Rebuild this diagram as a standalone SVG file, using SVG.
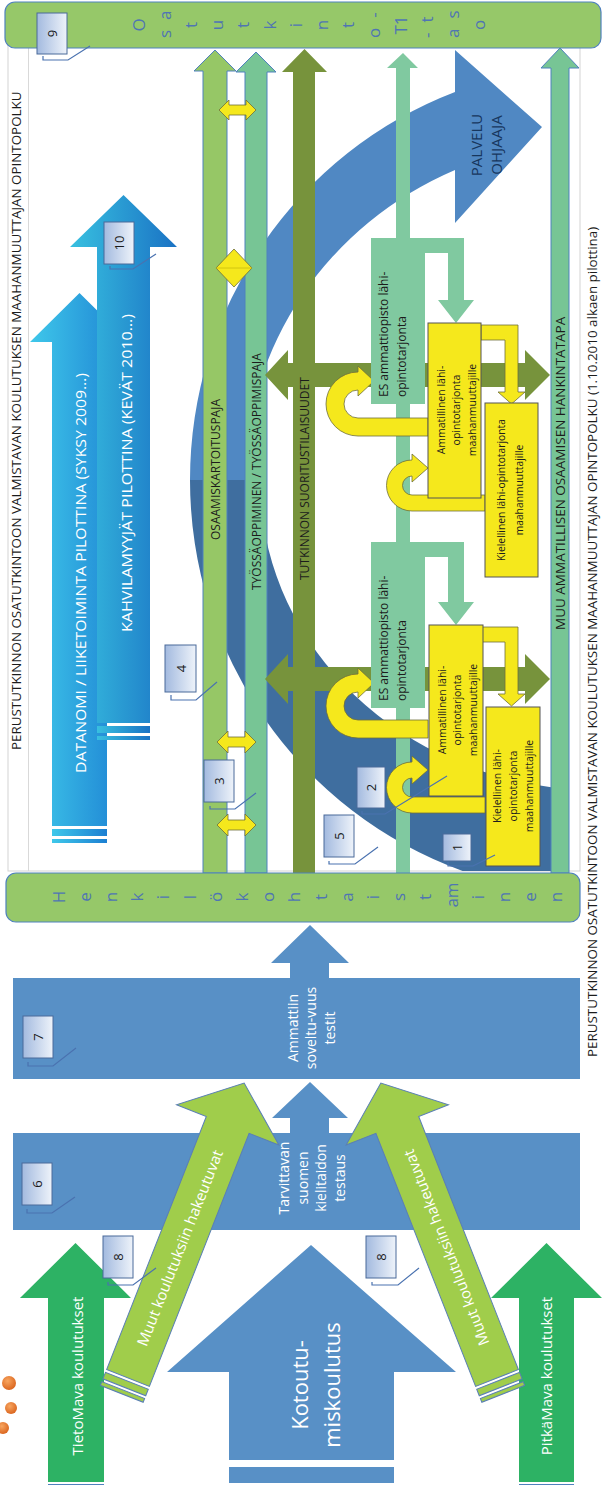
<svg xmlns="http://www.w3.org/2000/svg" width="602" height="1488" viewBox="0 0 602 1488">
<defs>
<style>
.t{font-family:"Open Sans","Liberation Sans",sans-serif}
.dk{fill:#1c1c1c}
.wh{fill:#ffffff}
.lt{font-family:"Open Sans","Liberation Sans",sans-serif;font-size:17px;fill:#4f75b3}
.nb{fill:url(#nbg);stroke:#4a6a9a;stroke-width:1}
.nt{font-family:"Open Sans","Liberation Sans",sans-serif;font-size:13px;fill:#1a1a1a}
.co{fill:none;stroke:#4a72b0;stroke-width:1.2}
.yl{fill:#f5e81c;stroke:#6e6e3a;stroke-width:0.8}
.yb{fill:#f5e81c;stroke:#555;stroke-width:1}
.tl{fill:#80c9a0}
.bl{fill:#5890c6}
.gr{fill:#2db264}
.mu{fill:#a0cd4b;stroke:#5a7fb5;stroke-width:1}
</style>
<linearGradient id="nbg" x1="0" y1="0" x2="1" y2="0">
<stop offset="0" stop-color="#a3badf"/><stop offset="1" stop-color="#eef3fa"/>
</linearGradient>
<linearGradient id="cy1" x1="0" y1="0" x2="1" y2="0">
<stop offset="0" stop-color="#3fc8ea"/><stop offset="1" stop-color="#1c7fd2"/>
</linearGradient>
<linearGradient id="cy2" x1="0" y1="0" x2="1" y2="0">
<stop offset="0" stop-color="#38c0e0"/><stop offset="1" stop-color="#1a72c4"/>
</linearGradient>
<radialGradient id="org" cx="0.4" cy="0.35" r="0.7">
<stop offset="0" stop-color="#f8a660"/><stop offset="1" stop-color="#d9621b"/>
</radialGradient>
</defs>

<rect x="0" y="0" width="602" height="1488" fill="#ffffff"/>

<g id="panel">
<rect x="8" y="40" width="572" height="831" fill="#ffffff" stroke="#d3d3d3" stroke-width="1"/>
<line x1="28.5" y1="48" x2="28.5" y2="871" stroke="#d9d9d9" stroke-width="1"/>
<text class="t dk" font-size="13.4" transform="translate(16,750) rotate(-90)" dominant-baseline="central">PERUSTUTKINNON OSATUTKINTOON VALMISTAVAN KOULUTUKSEN MAAHANMUUTTAJAN OPINTOPOLKU</text>
</g>

<g id="title-right">
<text class="t dk" font-size="13.4" transform="translate(592,1057) rotate(-90)" dominant-baseline="central">PERUSTUTKINNON OSATUTKINTOON VALMISTAVAN KOULUTUKSEN MAAHANMUUTTAJAN OPINTOPOLKU (1.10.2010 alkaen pilottina)</text>
</g>

<g id="datanomi">
<path d="M52,826 V342 H30 L79.5,293 L129,342 H107 V826 Z" fill="url(#cy1)"/>
<rect x="52" y="829" width="55" height="7" fill="url(#cy1)"/>
<rect x="52" y="839" width="55" height="4" fill="url(#cy1)"/>
<text class="t wh" font-size="15" textLength="400" lengthAdjust="spacingAndGlyphs" transform="translate(80,773) rotate(-90)" dominant-baseline="central">DATANOMI / LIIKETOIMINTA PILOTTINA (SYKSY 2009…)</text>
</g>

<g id="kahvila">
<path d="M97,723 V247 H70 L123.5,195 L177,247 H150 V723 Z" fill="url(#cy2)"/>
<rect x="97" y="726" width="53" height="7" fill="url(#cy2)"/>
<rect x="97" y="736" width="53" height="4" fill="url(#cy2)"/>
<text class="t wh" font-size="15" textLength="318" lengthAdjust="spacingAndGlyphs" transform="translate(126,632) rotate(-90)" dominant-baseline="central">KAHVILAMYYJÄT PILOTTINA (KEVÄT 2010…)</text>
</g>

<g id="palvelu-ohjaaja">
<path d="M190,480 A410,415 0 0 0 462.6,871 H556 V788 A340,310 0 0 1 260,480 Z" fill="#3f6e9f"/>
<path d="M190,480 A410,415 0 0 1 455,92 V50 L542,127 L455,223 V170 A355,340 0 0 0 245,480 Z" fill="#5088c3"/>
<text class="t" font-size="15" fill="#17365d" transform="translate(486,145) rotate(-90)" text-anchor="middle" dominant-baseline="central"><tspan x="0" y="-10">PALVELU</tspan><tspan x="0" y="10">OHJAAJA</tspan></text>
</g>

<g id="connectors">
<path id="t1-line" d="M396,873 V68 H387 L403,53 L418,68 H410 V873 Z" class="tl"/>
<path d="M203,873 V71 H194 L215,50 L236,71 H227 V873 Z" fill="#96c766" stroke="#4f81bd" stroke-width="1"/>
<path d="M245,873 V72 H236 L256,52 L276,72 H267 V873 Z" fill="#77c595" stroke="#4f81bd" stroke-width="1"/>
<path d="M551,873 V68 H541 L560,48 L579,68 H569 V873 Z" fill="#77c595" stroke="#4f81bd" stroke-width="1"/>
<path d="M293,873 V72 H282 L304.5,49 L327,72 H315 V873 Z" fill="#77933c"/>
<path d="M265,375 L288,350 V363 H525 V350 L550,375 L525,400 V387 H288 V400 Z" fill="#77933c"/>
<path d="M265,679 L288,654 V667 H525 V654 L550,679 L525,704 V691 H288 V704 Z" fill="#77933c"/>
<path d="M219,110 L229,100 V105 H246 V100 L256,110 L246,120 V115 H229 V120 Z" class="yl"/>
<path d="M217,742 L228,731 V737 H245 V731 L256,742 L245,753 V747 H228 V753 Z" class="yl"/>
<path d="M217,825 L228,814 V820 H245 V814 L256,825 L245,836 V830 H228 V836 Z" class="yl"/>
<path d="M234,249 L252,268 L234,287 L216,268 Z" class="yl"/>
<line x1="216" y1="268" x2="252" y2="268" stroke="#c9bd10" stroke-width="0.8"/>
<path d="M481,325 H518 V392 H525 L511.5,404 L498,392 H505 V340 H481 Z" class="yl"/>
<path d="M481,627 H518 V694 H525 L511.5,706 L498,694 H505 V642 H481 Z" class="yl"/>
<path d="M428,436 H358 A32,32 0 0 1 358,372 V366 L374,381 L358,396 V390 A14,14 0 0 0 358,418 H428 Z" class="yl"/>
<path d="M428,738 H358 A32,32 0 0 1 358,674 V668 L374,683 L358,698 V692 A14,14 0 0 0 358,720 H428 Z" class="yl"/>
<path d="M485,511 H412 A25.5,25.5 0 0 1 412,460 V454 L428,468 L412,482 V476 A9.5,9.5 0 0 0 412,495 H485 Z" class="yl"/>
<path d="M485,813 H412 A25.5,25.5 0 0 1 412,762 V756 L428,770 L412,784 V778 A9.5,9.5 0 0 0 412,797 H485 Z" class="yl"/>
<path d="M290,1140 V1118 H272 L310,1082 L348,1118 H329 V1140 Z" class="bl"/>
<path d="M290,985 V963 H271 L310,925 L349,963 H329 V985 Z" class="bl"/>
</g>

<g id="osaamis">
<text class="t dk" font-size="12" transform="translate(215,540) rotate(-90)" dominant-baseline="central">OSAAMISKARTOITUSPAJA</text>
</g>
<g id="tyossa">
<text class="t dk" font-size="12" transform="translate(256,590) rotate(-90)" dominant-baseline="central">TYÖSSÄOPPIMINEN / TYÖSSÄOPPIMISPAJA</text>
</g>
<g id="tutkinnon">
<text class="t dk" font-size="12" transform="translate(304,580) rotate(-90)" dominant-baseline="central">TUTKINNON SUORITUSTILAISUUDET</text>
</g>
<g id="muu">
<text class="t dk" font-size="13.5" transform="translate(560,630) rotate(-90)" dominant-baseline="central">MUU AMMATILLISEN OSAAMISEN HANKINTATAPA</text>
</g>

<g id="es-upper">
<path d="M371,404 V238 H464 V300 H474 L456,323 L438,300 H448 V253 H425 V404 Z" class="tl"/>
<text class="t dk" font-size="12" transform="translate(392,397) rotate(-90)" dominant-baseline="central"><tspan x="0" y="-9">ES ammattiopisto lähi-</tspan><tspan x="0" y="9">opintotarjonta</tspan></text>
</g>
<g id="es-lower">
<path d="M371,708 V542 H464 V602 H474 L456,625 L438,602 H448 V557 H425 V708 Z" class="tl"/>
<text class="t dk" font-size="12" transform="translate(392,701) rotate(-90)" dominant-baseline="central"><tspan x="0" y="-9">ES ammattiopisto lähi-</tspan><tspan x="0" y="9">opintotarjonta</tspan></text>
</g>

<g id="amm-upper">
<rect x="428" y="323" width="53" height="175" class="yb"/>
<text class="t dk" font-size="10.5" transform="translate(456,410) rotate(-90)" text-anchor="middle" dominant-baseline="central"><tspan x="0" y="-15.5">Ammatillinen lähi-</tspan><tspan x="0" y="0">opintotarjonta</tspan><tspan x="0" y="15.5">maahanmuuttajille</tspan></text>
</g>
<g id="kiel-upper">
<rect x="485" y="403" width="53" height="174" class="yb"/>
<text class="t dk" font-size="10.3" transform="translate(510,490) rotate(-90)" text-anchor="middle" dominant-baseline="central"><tspan x="0" y="-9">Kielellinen lähi-opintotarjonta</tspan><tspan x="0" y="9">maahanmuuttajille</tspan></text>
</g>
<g id="amm-lower">
<rect x="429" y="625" width="54" height="171" class="yb"/>
<text class="t dk" font-size="10.5" transform="translate(457,710) rotate(-90)" text-anchor="middle" dominant-baseline="central"><tspan x="0" y="-15.5">Ammatillinen lähi-</tspan><tspan x="0" y="0">opintotarjonta</tspan><tspan x="0" y="15.5">maahanmuuttajille</tspan></text>
</g>
<g id="kiel-lower">
<rect x="486" y="707" width="54" height="159" class="yb"/>
<text class="t dk" font-size="10.5" transform="translate(513,786) rotate(-90)" text-anchor="middle" dominant-baseline="central"><tspan x="0" y="-16">Kielellinen lähi-</tspan><tspan x="0" y="0">opintotarjonta</tspan><tspan x="0" y="16">maahanmuuttajille</tspan></text>
</g>

<g id="osatutkinto-bar">
<rect x="5" y="2" width="596" height="46" rx="10" fill="#96c869" stroke="#4f81bd" stroke-width="1.2"/>
<g class="lt" text-anchor="middle" dominant-baseline="central">
<text transform="translate(138,25) rotate(-90)">O</text>
<text transform="translate(164.2,38) rotate(-90)" text-anchor="start" letter-spacing="10">sa</text>
<text transform="translate(190.4,25) rotate(-90)">t</text>
<text transform="translate(216.6,25) rotate(-90)">u</text>
<text transform="translate(242.8,25) rotate(-90)">t</text>
<text transform="translate(269,25) rotate(-90)">k</text>
<text transform="translate(295.2,25) rotate(-90)">i</text>
<text transform="translate(321.4,25) rotate(-90)">n</text>
<text transform="translate(347.6,25) rotate(-90)">t</text>
<text transform="translate(373.8,38) rotate(-90)" text-anchor="start" letter-spacing="10">o-</text>
<text transform="translate(400,25) rotate(-90)">T1</text>
<text transform="translate(426.2,38) rotate(-90)" text-anchor="start" letter-spacing="10">-t</text>
<text transform="translate(452.4,38) rotate(-90)" text-anchor="start" letter-spacing="10">as</text>
<text transform="translate(478.6,25) rotate(-90)">o</text>
</g>
</g>

<g id="henkilokohtaistaminen-bar">
<rect x="6" y="873" width="574" height="49" rx="10" fill="#96c869" stroke="#4f81bd" stroke-width="1.2"/>
<g class="lt" text-anchor="middle" dominant-baseline="central">
<text transform="translate(58,897) rotate(-90)">H</text>
<text transform="translate(84.2,897) rotate(-90)">e</text>
<text transform="translate(110.4,897) rotate(-90)">n</text>
<text transform="translate(136.6,897) rotate(-90)">k</text>
<text transform="translate(162.8,897) rotate(-90)">i</text>
<text transform="translate(189,897) rotate(-90)">l</text>
<text transform="translate(215.2,897) rotate(-90)">ö</text>
<text transform="translate(241.4,897) rotate(-90)">k</text>
<text transform="translate(267.6,897) rotate(-90)">o</text>
<text transform="translate(293.8,897) rotate(-90)">h</text>
<text transform="translate(320,897) rotate(-90)">t</text>
<text transform="translate(346.2,897) rotate(-90)">a</text>
<text transform="translate(372.4,897) rotate(-90)">i</text>
<text transform="translate(398.6,897) rotate(-90)">s</text>
<text transform="translate(424.8,897) rotate(-90)">t</text>
<text transform="translate(451,895) rotate(-90)">am</text>
<text transform="translate(477.2,897) rotate(-90)">i</text>
<text transform="translate(503.4,897) rotate(-90)">n</text>
<text transform="translate(529.6,897) rotate(-90)">e</text>
<text transform="translate(555.8,897) rotate(-90)">n</text>
</g>
</g>

<g id="band7">
<rect x="13" y="978" width="567" height="101" class="bl"/>
<text class="t wh" font-size="14" transform="translate(310,1028) rotate(-90)" text-anchor="middle" dominant-baseline="central"><tspan x="0" y="-18.5">Ammattiin</tspan><tspan x="0" y="0">soveltu-vuus</tspan><tspan x="0" y="18.5">testit</tspan></text>
</g>

<g id="band6">
<rect x="13" y="1133" width="567" height="97" class="bl"/>
<text class="t wh" font-size="14" transform="translate(311,1178) rotate(-90)" text-anchor="middle" dominant-baseline="central"><tspan x="0" y="-27.75">Tarvittavan</tspan><tspan x="0" y="-9.25">suomen</tspan><tspan x="0" y="9.25">kielitaidon</tspan><tspan x="0" y="27.75">testaus</tspan></text>
</g>

<g id="kotoutumiskoulutus">
<path d="M229,1460 V1372 H167 L311,1245 L456,1372 H394 V1460 Z" class="bl"/>
<rect x="229" y="1467" width="165" height="16" class="bl"/>
<text class="t wh" font-size="22" transform="translate(315,1385) rotate(-90)" text-anchor="middle" dominant-baseline="central"><tspan x="0" y="-16">Kotoutu-</tspan><tspan x="0" y="16">miskoulutus</tspan></text>
</g>

<g id="tietomava">
<path d="M48,1482 V1298 H20 L75.5,1243 L131,1298 H104 V1482 Z" class="gr"/>
<line x1="48" y1="1484.5" x2="104" y2="1484.5" stroke="#4f81bd" stroke-width="1.2"/>
<text class="t wh" font-size="15" transform="translate(77,1376) rotate(-90)" text-anchor="middle" dominant-baseline="central">TietoMava koulutukset</text>
</g>

<g id="pitkamava">
<path d="M519,1482 V1298 H491 L546.5,1243 L602,1298 H574 V1482 Z" class="gr"/>
<line x1="519" y1="1484.5" x2="574" y2="1484.5" stroke="#4f81bd" stroke-width="1.2"/>
<text class="t wh" font-size="15" transform="translate(546,1376) rotate(-90)" text-anchor="middle" dominant-baseline="central">PitkäMava koulutukset</text>
</g>

<g id="muut-left" transform="translate(128,1378) rotate(-68.5)">
<path d="M0,-23 H272 V-55 L317,0 L272,55 V23 H0 Z" class="mu"/>
<rect x="-10" y="-23" width="7" height="46" class="mu"/>
<rect x="-17" y="-23" width="4" height="46" class="mu"/>
<text class="t wh" font-size="15" x="140" y="0" text-anchor="middle" dominant-baseline="central">Muut koulutuksiin hakeutuvat</text>
</g>

<g id="muut-right" transform="translate(497,1378) rotate(-111.5)">
<path d="M0,-23 H272 V-55 L317,0 L272,55 V23 H0 Z" class="mu"/>
<rect x="-10" y="-23" width="7" height="46" class="mu"/>
<rect x="-17" y="-23" width="4" height="46" class="mu"/>
<text class="t wh" font-size="15" x="140" y="0" text-anchor="middle" dominant-baseline="central">Muut koulutuksiin hakeutuvat</text>
</g>

<g id="dots">
<circle cx="9" cy="1383" r="7" fill="url(#org)"/>
<circle cx="11" cy="1408" r="6" fill="url(#org)"/>
<circle cx="3" cy="1428" r="6" fill="url(#org)"/>
</g>

<g id="callouts">
<g id="n9"><rect x="37" y="13" width="30" height="41" class="nb"/><text class="nt" transform="translate(52,33.5) rotate(-90)" text-anchor="middle" dominant-baseline="central">9</text><path d="M43,56 V60 H68 L90,46" class="co"/></g>
<g id="n10"><rect x="104" y="222" width="30" height="42" class="nb"/><text class="nt" transform="translate(119,243) rotate(-90)" text-anchor="middle" dominant-baseline="central">10</text><path d="M110,266 V269 H133 L156,254" class="co"/></g>
<g id="n4"><rect x="165" y="645" width="31" height="47" class="nb"/><text class="nt" transform="translate(180.5,668.5) rotate(-90)" text-anchor="middle" dominant-baseline="central">4</text><path d="M171,695 V700 H196 L217,682" class="co"/></g>
<g id="n3"><rect x="204" y="760" width="30" height="42" class="nb"/><text class="nt" transform="translate(219,781) rotate(-90)" text-anchor="middle" dominant-baseline="central">3</text><path d="M210,806 V809 H235 L256,793" class="co"/></g>
<g id="n2"><rect x="357" y="767" width="28" height="41" class="nb"/><text class="nt" transform="translate(371,787.5) rotate(-90)" text-anchor="middle" dominant-baseline="central">2</text><path d="M362,811 V814 H385 L447,776" class="co"/></g>
<g id="n5"><rect x="324" y="815" width="30" height="42" class="nb"/><text class="nt" transform="translate(339,836) rotate(-90)" text-anchor="middle" dominant-baseline="central">5</text><path d="M329,861 V864 H355 L378,847" class="co"/></g>
<g id="n1"><rect x="443" y="834" width="28" height="27" class="nb"/><text class="nt" transform="translate(457,847.5) rotate(-90)" text-anchor="middle" dominant-baseline="central">1</text><path d="M448,862 V866 H473 L495,855" class="co"/></g>
<g id="n7"><rect x="23" y="1016" width="30" height="42" class="nb"/><text class="nt" transform="translate(38,1037) rotate(-90)" text-anchor="middle" dominant-baseline="central">7</text><path d="M28,1062 V1066 H53 L76,1048" class="co"/></g>
<g id="n6"><rect x="22" y="1163" width="30" height="42" class="nb"/><text class="nt" transform="translate(37,1184) rotate(-90)" text-anchor="middle" dominant-baseline="central">6</text><path d="M27,1209 V1213 H52 L75,1197" class="co"/></g>
<g id="n8a"><rect x="103" y="1236" width="30" height="42" class="nb"/><text class="nt" transform="translate(118,1257) rotate(-90)" text-anchor="middle" dominant-baseline="central">8</text><path d="M108,1282 V1285 H133 L156,1268" class="co"/></g>
<g id="n8b"><rect x="366" y="1236" width="30" height="42" class="nb"/><text class="nt" transform="translate(381,1257) rotate(-90)" text-anchor="middle" dominant-baseline="central">8</text><path d="M372,1282 V1285 H398 L419,1268" class="co"/></g>
</g>
</svg>
